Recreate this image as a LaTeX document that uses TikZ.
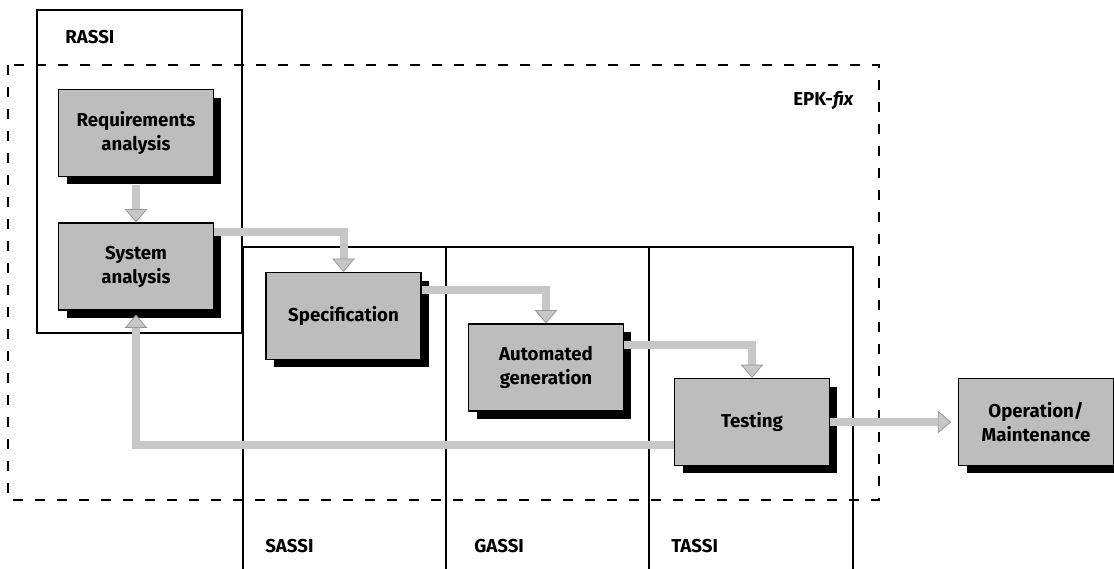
\documentclass[tikz,border=0pt]{standalone}
\usepackage{fontspec}
\setmainfont{Fira Sans}
\usetikzlibrary{arrows.meta,shadows,calc}

\tikzset{
  stage/.style={draw=black, line width=1.2pt, fill=black!26, minimum width=116pt, minimum height=65pt,
    inner sep=0pt, align=center, font=\fontsize{14}{18}\selectfont\bfseries,
    general shadow={fill=black, shadow xshift=6pt, shadow yshift=-6pt}},
  region/.style={draw=black, line width=1.2pt},
  regionlabel/.style={anchor=west, inner sep=0pt, font=\fontsize{14}{18}\selectfont\bfseries},
  flow/.style={draw=black!22, line width=6pt,
    -{Triangle[width=17pt,length=10pt,line width=0.6pt,fill=black!22,color=black!40]}},
}

\begin{document}
\begin{tikzpicture}[x=0.75pt,y=0.75pt,yscale=-1,xscale=1]
\useasboundingbox (0,0) rectangle (1114,568);
% phase frames
\draw [region] (37,10) rectangle (242,333);
\draw [region] (243,570) -- (243,247) -- (853,247) -- (853,570);
\draw [region] (446,247) -- (446,570);
\draw [region] (649,247) -- (649,570);
% EPK-fix boundary
\draw [line width=1.5pt, dash pattern=on 7.5pt off 9pt] (8,65) rectangle (879,500);
\draw (65,37) node [regionlabel] (rassi) {RASSI};
\draw (265,546) node [regionlabel] (sassi) {SASSI};
\draw (474,546) node [regionlabel] (gassi) {GASSI};
\draw (671,546) node [regionlabel] (tassi) {TASSI};
\draw (854,100) node [regionlabel, anchor=east] (epk) {EPK-\textit{fix}};
% stages
\draw (136,133) node [stage] (req) {Requirements\\analysis};
\draw (136,266.5) node [stage] (sys) {System\\analysis};
\draw (343.5,316) node [stage] (spec) {Specification};
\draw (546,367.5) node [stage] (auto) {Automated\\generation};
\draw (752,422) node [stage] (test) {Testing};
\draw (1036,422) node [stage] (op) {Operation/\\Maintenance};
% flow
\draw [flow, shorten <=6pt] (req.south) -- (sys.north);
\draw [flow] ($(sys.north east)+(0,10)$) -| (spec.north);
\draw [flow] ($(spec.north east)+(0,18)$) -| (auto.north);
\draw [flow] ($(auto.north east)+(0,22)$) -| (test.north);
\draw [flow, shorten >=5pt] (test.east) -- (op.west);
\draw [flow, shorten >=3pt] ($(test.west)+(0,23)$) -| (sys.south);
\end{tikzpicture}
\end{document}
